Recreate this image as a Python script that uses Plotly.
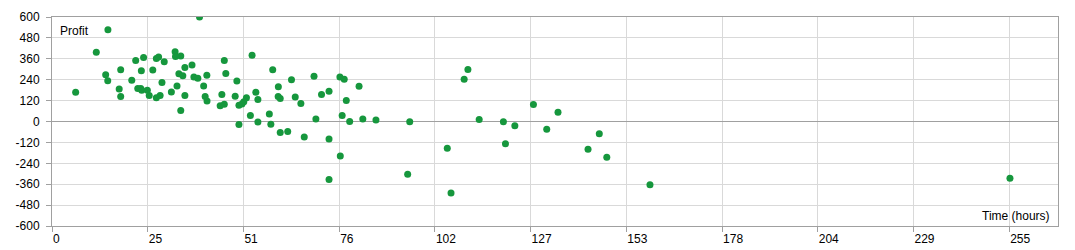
import plotly.graph_objects as go

# Time (hours) and Profit for each trade
hours = [6.3, 11.8, 14.9, 14.3, 14.85, 17.9, 18.3, 18.3, 21.25, 22.3,
         24.4, 23.8, 22.85, 23.65, 23.9, 25.4, 25.9, 26.85, 27.8, 28.4,
         29.9, 27.8, 28.8, 29.3, 31.8, 32.8, 32.9, 34.3, 33.8, 33.3,
         34.3, 39.3, 35.4, 37.3, 34.85, 37.8, 38.85, 41.25, 45.9, 46.3,
         40.4, 49.25, 53.3, 35.4, 40.8, 41.3, 45.25, 44.8, 45.9, 48.8,
         49.8, 50.6, 51.1, 51.8, 54.3, 54.85, 52.85, 54.85, 57.9, 58.3,
         49.8, 60.8, 62.8, 58.8, 60.3, 60.25, 60.8, 63.8, 64.8, 66.3,
         69.8, 76.7, 77.85, 81.8, 71.8, 73.8, 78.4, 70.3, 77.3, 79.3,
         82.8, 86.3, 95.3, 67.2, 73.8, 76.8, 73.8, 94.75, 110.8, 109.8,
         113.8, 105.3, 106.3, 120.25, 120.8, 123.3, 128.25, 131.8, 134.8, 142.8,
         145.8, 147.8, 159.3, 255.2]
profit = [168, 398, 527, 268, 234, 186, 143, 297, 237, 350,
          367, 291, 189, 189, 180, 180, 149, 295, 362, 371,
          343, 136, 149, 224, 170, 400, 373, 376, 274, 204,
          63, 600, 310, 324, 262, 255, 249, 266, 350, 275,
          204, 232, 381, 149, 143, 117, 155, 91, 99, 145,
          94, 101, 113, 136, 168, 127, 35, -3, 43, -16,
          -17, -63, -57, 297, 199, 143, 132, 239, 140, 103,
          260, 256, 243, 203, 155, 174, 120, 15, 34, 0.5,
          15, 8, -1, -89, -101, -198, -333, -303, 298, 243,
          12, -154, -411, -2, -128, -24, 97, -44, 53, -159,
          -70, -205, -363, -326]

x_tick_vals = [0, 25.5, 51, 76.5, 102, 127.5, 153, 178.5, 204, 229.5, 255]
x_tick_text = ["0", "25", "51", "76", "102", "127", "153", "178", "204", "229", "255"]
y_tick_vals = [600, 480, 360, 240, 120, 0, -120, -240, -360, -480, -600]
y_tick_text = [str(v) for v in y_tick_vals]

FONT = "Liberation Sans, Arial, sans-serif"
GRID = "#d9d9d9"
AXIS = "#a0a0a0"

fig = go.Figure()
fig.add_trace(go.Scatter(
    x=hours, y=profit, mode="markers",
    marker=dict(color="#16973d", size=7, line=dict(width=0)),
    showlegend=False, hoverinfo="x+y",
))

fig.update_layout(
    width=1075, height=250,
    margin=dict(l=52, r=17, t=17, b=24),
    paper_bgcolor="white", plot_bgcolor="white",
    font=dict(family=FONT, size=12, color="#000000"),
    xaxis=dict(
        range=[0, 268], tickvals=x_tick_vals, ticktext=x_tick_text,
        showgrid=True, gridcolor=GRID, gridwidth=1,
        showline=True, linecolor=AXIS, linewidth=1, mirror=True,
        ticks="outside", ticklen=5, tickcolor=AXIS,
        ticklabelposition="outside right", ticklabelstandoff=2,
        zeroline=False, fixedrange=True, automargin=False,
    ),
    yaxis=dict(
        range=[-600, 600], tickvals=y_tick_vals, ticktext=y_tick_text,
        showgrid=True, gridcolor=GRID, gridwidth=1,
        showline=True, linecolor=AXIS, linewidth=1, mirror=True,
        ticks="outside", ticklen=5, tickcolor=AXIS, ticklabelstandoff=4,
        zeroline=True, zerolinecolor=AXIS, zerolinewidth=1,
        fixedrange=True, automargin=False,
    ),
    annotations=[
        dict(text="Profit", xref="paper", yref="paper", x=0.0, y=1.0,
             xanchor="left", yanchor="top", xshift=6, yshift=-5,
             showarrow=False, font=dict(family=FONT, size=12)),
        dict(text="Time (hours)", xref="paper", yref="paper", x=1.0, y=0.0,
             xanchor="right", yanchor="bottom", xshift=-6, yshift=1,
             showarrow=False, font=dict(family=FONT, size=12)),
    ],
)

fig.write_html("out.html")
